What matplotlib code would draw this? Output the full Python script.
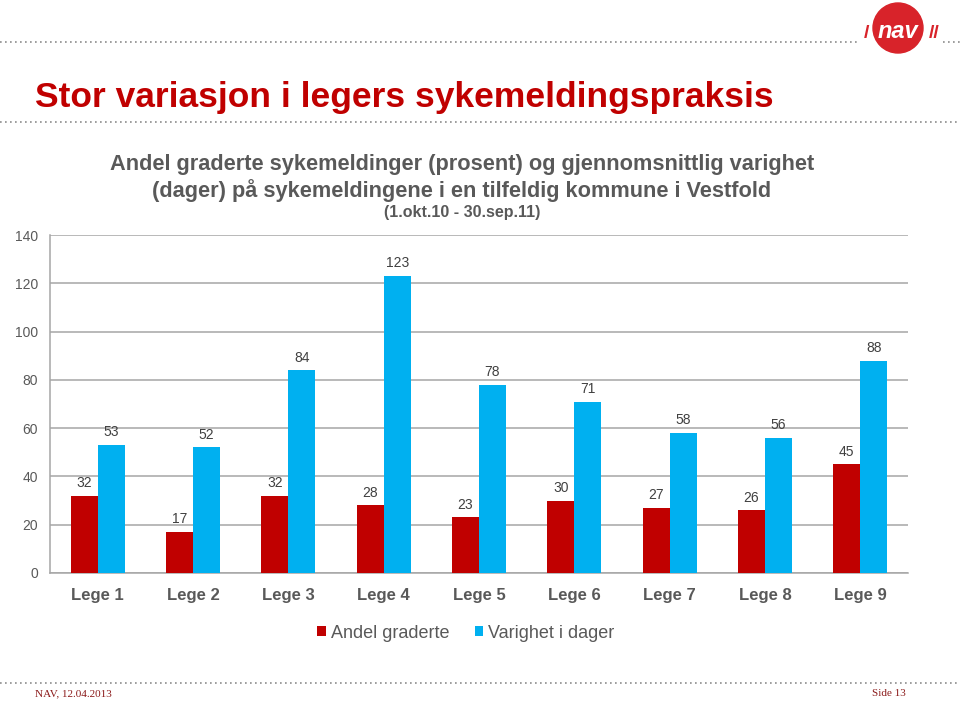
import numpy as np
import matplotlib
matplotlib.use("Agg")
import matplotlib.pyplot as plt
from matplotlib.lines import Line2D
from matplotlib.patches import Circle

# data
leger = ["Lege 1", "Lege 2", "Lege 3", "Lege 4", "Lege 5", "Lege 6", "Lege 7", "Lege 8", "Lege 9"]
andel_graderte = [32, 17, 32, 28, 23, 30, 27, 26, 45]
varighet = [53, 52, 84, 123, 78, 71, 58, 56, 88]
yticks = [0, 20, 40, 60, 80, 100, 120, 140]

RED = "#C00000"
BLUE = "#00B0F0"
GREY = "#595959"

plt.rcParams['font.family'] = ['Liberation Sans', 'DejaVu Sans']

fig = plt.figure(figsize=(9.6, 7.02), dpi=100)
W, H = 960, 702

def fx(px):
    return px / W

def fy(py):
    return 1 - py / H

# dotted rules (the top one is broken by the logo)
rules = [(0, 857, 42), (943, 960, 42), (0, 960, 122), (0, 960, 683)]
for x0, x1, y in rules:
    fig.add_artist(Line2D([fx(x0), fx(x1)], [fy(y), fy(y)], transform=fig.transFigure,
                          color="#8c8c8c", linestyle=(0, (1, 2)), linewidth=1.2, zorder=1))

# logo
lax = fig.add_axes([fx(858), fy(58), fx(90), 58 / H], zorder=5)
lax.set_xlim(0, 90)
lax.set_ylim(0, 58)
lax.set_aspect("equal")
lax.axis("off")
lax.add_patch(Circle((40, 30), 25, color="#D8232A", zorder=1))
lax.text(40, 27, "nav", color="white", fontsize=17, fontweight="bold", style="italic",
         ha="center", va="center", zorder=2)
lax.text(8, 25, "/", color="#D8232A", fontsize=14, fontweight="bold", ha="center", va="center")
lax.text(76, 25, "//", color="#D8232A", fontsize=14, fontweight="bold", ha="center", va="center")

# slide title
fig.text(fx(35), fy(97), "Stor variasjon i legers sykemeldingspraksis", color=RED,
         fontsize=25.5, fontweight="bold", ha="left", va="center")

# chart title
fig.text(fx(462), fy(178), "Andel graderte sykemeldinger (prosent) og gjennomsnittlig varighet\n"
         "(dager) på sykemeldingene i en tilfeldig kommune i Vestfold",
         color=GREY, fontsize=15.7, fontweight="bold", ha="center", va="center", linespacing=1.25)
fig.text(fx(462), fy(212), "(1.okt.10 - 30.sep.11)", color=GREY, fontsize=11.5,
         fontweight="bold", ha="center", va="center")

# chart
ax = fig.add_axes([fx(50), fy(573), fx(908 - 50), (573 - 235) / H])
x = np.arange(len(leger))
w = 0.283
b1 = ax.bar(x - w / 2, andel_graderte, w, color=RED, label="Andel graderte", zorder=3)
b2 = ax.bar(x + w / 2, varighet, w, color=BLUE, label="Varighet i dager", zorder=3)

for bars, vals in [(b1, andel_graderte), (b2, varighet)]:
    for r, v in zip(bars, vals):
        ax.annotate(str(v), (r.get_x() + r.get_width() / 2, v), xytext=(0, 4),
                    textcoords="offset points", ha="center", va="bottom",
                    fontsize=10, color="#404040")

ax.set_xlim(-0.5, len(leger) - 0.5)
ax.set_ylim(0, 140)
ax.set_yticks(yticks)
ax.set_xticks(x)
ax.set_xticklabels(leger, fontsize=12, fontweight="bold", color=GREY)
ax.tick_params(axis="y", labelsize=10, labelcolor=GREY, length=0, pad=8.5)
ax.tick_params(axis="x", length=0, pad=10.5)
ax.yaxis.grid(True, color="#a6a6a6", linewidth=1.1)
ax.set_axisbelow(True)
for s in ["top", "right"]:
    ax.spines[s].set_visible(False)
for s in ["left", "bottom"]:
    ax.spines[s].set_color("#a6a6a6")
    ax.spines[s].set_linewidth(1.1)

ax.legend(loc="center", bbox_to_anchor=(fx(466), fy(633)), bbox_transform=fig.transFigure,
          ncol=2, frameon=False, fontsize=13, handlelength=0.45, handleheight=0.45,
          handletextpad=0.3, columnspacing=1.4, labelcolor=GREY)

# footer
fig.text(fx(35), fy(694), "NAV, 12.04.2013", color="#8B1A1A", fontsize=8,
         family=["Liberation Serif", "DejaVu Serif"], ha="left", va="center")
fig.text(fx(906), fy(694), "Side 13", color="#8B1A1A", fontsize=8,
         family=["Liberation Serif", "DejaVu Serif"], ha="right", va="center")

fig.savefig("out.png", dpi=100)
